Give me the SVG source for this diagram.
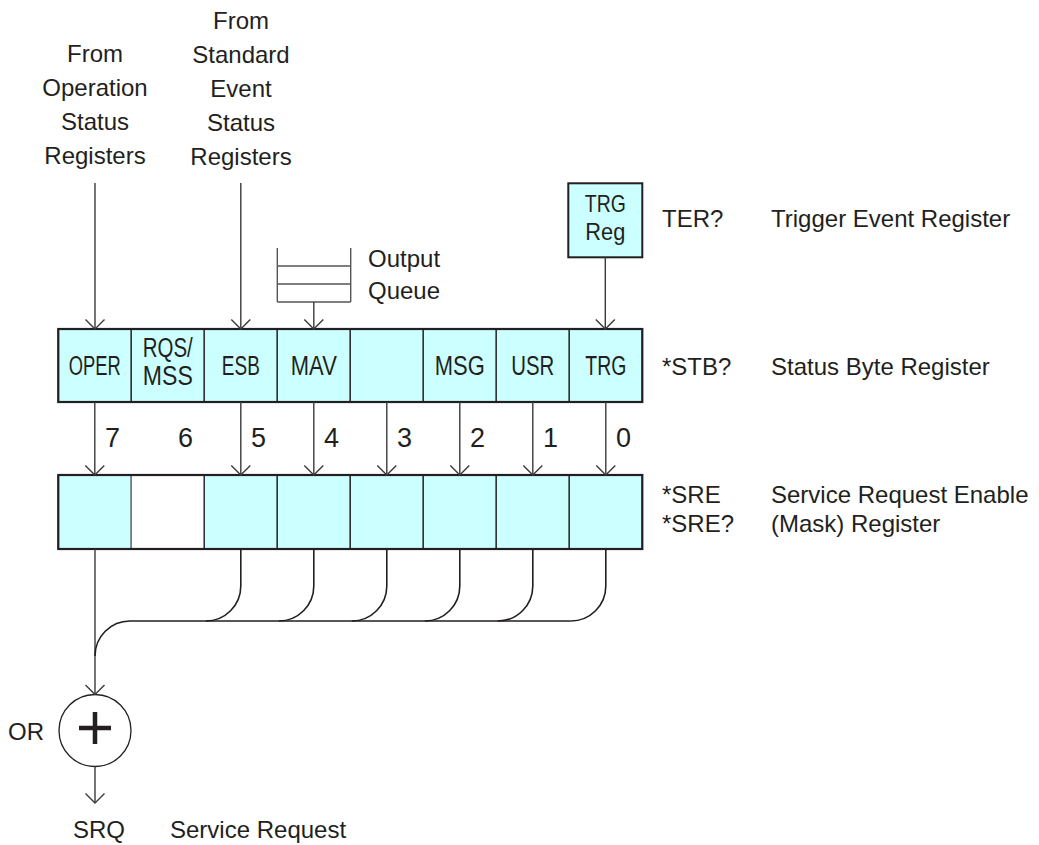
<svg xmlns="http://www.w3.org/2000/svg" width="1039" height="845" viewBox="0 0 1039 845">
<style>
text{font-family:"Liberation Sans",Arial,sans-serif;fill:#231f20;font-size:24px}
.c{text-anchor:middle}
.lbl{font-size:27px;text-anchor:middle}
.num{font-size:27px}
.cell{fill:#ccffff;stroke:#333;stroke-width:1.4}
.white{fill:#fff;stroke:#777;stroke-width:1.4}
.frame{fill:none;stroke:#231f20;stroke-width:2.2}
.conn{fill:none;stroke:#3a3a3a;stroke-width:1.4}
.bus{fill:none;stroke:#231f20;stroke-width:1.6}
.q{fill:none;stroke:#555;stroke-width:1.4}
</style>
<defs>
<marker id="ah" markerUnits="userSpaceOnUse" markerWidth="30" markerHeight="30" viewBox="-15 -15 30 30" refX="0" refY="0" orient="auto">
<path d="M-9.5,-9.5 L0,0 L-9.5,9.5" fill="none" stroke="#3a3a3a" stroke-width="1.4"/>
</marker>
</defs>
<rect width="1039" height="845" fill="#fff"/>

<g id="label-oper-src">
<text class="c" x="95" y="62">From</text>
<text class="c" x="95" y="96">Operation</text>
<text class="c" x="95" y="130">Status</text>
<text class="c" x="95" y="164">Registers</text>
</g>
<g id="label-ses-src">
<text class="c" x="241" y="29">From</text>
<text class="c" x="241" y="63">Standard</text>
<text class="c" x="241" y="97">Event</text>
<text class="c" x="241" y="131">Status</text>
<text class="c" x="241" y="165">Registers</text>
</g>

<g id="output-queue">
<path class="q" d="M277.3,248 V302 M350.7,248 V302 M277.3,266 H350.7 M277.3,284 H350.7 M277.3,302 H350.7"/>
<text x="368" y="267">Output</text>
<text x="368" y="299">Queue</text>
</g>

<g id="trg-reg">
<rect x="568.3" y="183.3" width="74" height="74" fill="#ccffff" stroke="#231f20" stroke-width="2"/>
<text class="c" x="605.3" y="212" font-size="25" textLength="41" lengthAdjust="spacingAndGlyphs">TRG</text>
<text class="c" x="605.3" y="240" font-size="25" textLength="40" lengthAdjust="spacingAndGlyphs">Reg</text>
</g>
<g id="label-ter">
<text x="662" y="227">TER?</text>
<text x="771" y="227">Trigger Event Register</text>
</g>

<g id="status-byte-register">
<rect class="cell" x="58.3" y="329" width="73" height="73"/>
<rect class="cell" x="131.3" y="329" width="73" height="73"/>
<rect class="cell" x="204.3" y="329" width="73" height="73"/>
<rect class="cell" x="277.3" y="329" width="73" height="73"/>
<rect class="cell" x="350.3" y="329" width="73" height="73"/>
<rect class="cell" x="423.3" y="329" width="73" height="73"/>
<rect class="cell" x="496.3" y="329" width="73" height="73"/>
<rect class="cell" x="569.3" y="329" width="73" height="73"/>
<rect class="frame" x="58.3" y="329" width="584" height="73"/>
<text class="lbl" x="94.8" y="375" textLength="52" lengthAdjust="spacingAndGlyphs">OPER</text>
<text class="lbl" x="167.8" y="357" font-size="25" textLength="50" lengthAdjust="spacingAndGlyphs">RQS/</text>
<text class="lbl" x="167.8" y="385" font-size="25" textLength="50" lengthAdjust="spacingAndGlyphs">MSS</text>
<text class="lbl" x="240.8" y="375" textLength="38" lengthAdjust="spacingAndGlyphs">ESB</text>
<text class="lbl" x="313.8" y="375" textLength="46" lengthAdjust="spacingAndGlyphs">MAV</text>
<text class="lbl" x="459.8" y="375" textLength="50" lengthAdjust="spacingAndGlyphs">MSG</text>
<text class="lbl" x="532.8" y="375" textLength="43" lengthAdjust="spacingAndGlyphs">USR</text>
<text class="lbl" x="605.8" y="375" textLength="41" lengthAdjust="spacingAndGlyphs">TRG</text>
</g>
<g id="label-stb">
<text x="662" y="375">*STB?</text>
<text x="771" y="375">Status Byte Register</text>
</g>

<g id="bit-numbers">
<text class="num" x="105" y="447">7</text>
<text class="num" x="178" y="447">6</text>
<text class="num" x="251" y="447">5</text>
<text class="num" x="324" y="447">4</text>
<text class="num" x="397" y="447">3</text>
<text class="num" x="470" y="447">2</text>
<text class="num" x="543" y="447">1</text>
<text class="num" x="616" y="447">0</text>
</g>

<g id="service-request-enable-register">
<rect class="cell" x="58.3" y="475" width="73" height="74"/>
<rect class="white" x="131.3" y="475" width="73" height="74"/>
<rect class="cell" x="204.3" y="475" width="73" height="74"/>
<rect class="cell" x="277.3" y="475" width="73" height="74"/>
<rect class="cell" x="350.3" y="475" width="73" height="74"/>
<rect class="cell" x="423.3" y="475" width="73" height="74"/>
<rect class="cell" x="496.3" y="475" width="73" height="74"/>
<rect class="cell" x="569.3" y="475" width="73" height="74"/>
<rect class="frame" x="58.3" y="475" width="584" height="74"/>
</g>
<g id="label-sre">
<text x="662" y="503">*SRE</text>
<text x="662" y="532">*SRE?</text>
<text x="771" y="503">Service Request Enable</text>
<text x="771" y="532">(Mask) Register</text>
</g>

<g id="or-gate">
<circle cx="95" cy="730.5" r="36" fill="#fff" stroke="#231f20" stroke-width="1.3"/>
<path d="M79,728 H111 M95,712 V744" stroke="#231f20" stroke-width="4.5" fill="none"/>
<text x="8" y="740">OR</text>
</g>

<g id="label-srq">
<text x="73" y="838">SRQ</text>
<text x="170" y="838">Service Request</text>
</g>

<g id="connectors">
<path class="conn" d="M95,183 V329" marker-end="url(#ah)"/>
<path class="conn" d="M240.8,183 V329" marker-end="url(#ah)"/>
<path class="conn" d="M313.8,302 V329" marker-end="url(#ah)"/>
<path class="conn" d="M605.3,257.3 V329" stroke="#666" marker-end="url(#ah)"/>
<path class="conn" d="M94.8,402 V475" marker-end="url(#ah)"/>
<path class="conn" d="M240.8,402 V475" marker-end="url(#ah)"/>
<path class="conn" d="M313.8,402 V475" marker-end="url(#ah)"/>
<path class="conn" d="M386.8,402 V475" marker-end="url(#ah)"/>
<path class="conn" d="M459.8,402 V475" marker-end="url(#ah)"/>
<path class="conn" d="M532.8,402 V475" marker-end="url(#ah)"/>
<path class="conn" d="M605.8,402 V475" marker-end="url(#ah)"/>
<path class="conn" d="M95,549 V694.5" marker-end="url(#ah)"/>
<path class="bus" d="M240.8,549 V586 A35,35 0 0 1 205.8,621"/>
<path class="bus" d="M313.8,549 V586 A35,35 0 0 1 278.8,621"/>
<path class="bus" d="M386.8,549 V586 A35,35 0 0 1 351.8,621"/>
<path class="bus" d="M459.8,549 V586 A35,35 0 0 1 424.8,621"/>
<path class="bus" d="M532.8,549 V586 A35,35 0 0 1 497.8,621"/>
<path class="bus" d="M605.8,549 V586 A35,35 0 0 1 570.8,621"/>
<path class="bus" d="M570.8,621 H130 A35,35 0 0 0 95,656" stroke-width="2"/>
<path class="conn" d="M95,766.5 V803" marker-end="url(#ah)"/>
</g>
</svg>
